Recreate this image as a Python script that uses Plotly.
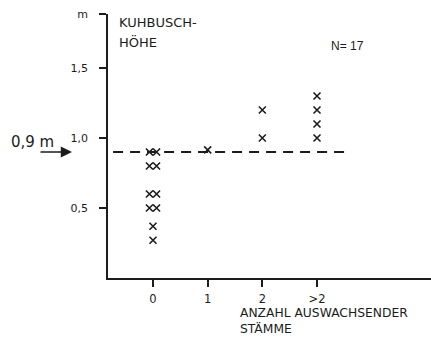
import plotly.graph_objects as go

# ---- data ----
categories = ["0", "1", "2", ">2"]
cat_pos = [0, 1, 2, 3]
heights = {
    0: [0.9, 0.9, 0.8, 0.8, 0.6, 0.6, 0.5, 0.5, 0.37, 0.27],
    1: [0.915],
    2: [1.2, 1.0],
    3: [1.3, 1.2, 1.1, 1.0],
}
threshold = 0.9
threshold_x = [-0.73, 3.62]
y_ticks = [0.5, 1.0, 1.5, 1.886]
y_tick_labels = ["0,5", "1,0", "1,5", "m"]
n_total = 17

INK = "#1c1c1c"
FONT = "DejaVu Sans"

# side-by-side placement for duplicated heights within a category
xs, ys = [], []
for c, vals in heights.items():
    seen = {}
    for v in vals:
        cnt = vals.count(v)
        k = seen.get(v, 0)
        seen[v] = k + 1
        off = 0.0 if cnt == 1 else (k - (cnt - 1) / 2) * 0.13
        xs.append(c + off)
        ys.append(v)

fig = go.Figure()
fig.add_trace(go.Scatter(
    x=threshold_x, y=[threshold, threshold], mode="lines",
    line=dict(color=INK, width=2, dash="10px,7px"), hoverinfo="skip"))
fig.add_trace(go.Scatter(
    x=xs, y=ys, mode="markers",
    marker=dict(symbol="x-thin", size=7, line=dict(color=INK, width=1.6))))

fig.update_layout(
    width=431, height=338,
    margin=dict(l=108, r=0, t=14, b=60),
    paper_bgcolor="white", plot_bgcolor="white",
    showlegend=False,
    font=dict(family=FONT, color=INK, size=11),
    xaxis=dict(range=[-0.823, 5.085], tickvals=cat_pos, ticktext=categories,
               showgrid=False, zeroline=False, showline=True, linecolor=INK,
               linewidth=1.8, ticks="outside", ticklen=7, tickwidth=1.5,
               tickcolor=INK, ticklabelstandoff=2,
               tickfont=dict(family=FONT, size=11.5, color=INK)),
    yaxis=dict(range=[0, 1.886], tickvals=y_ticks, ticktext=y_tick_labels,
               showgrid=False, zeroline=False, showline=True, linecolor=INK,
               linewidth=1.8, ticks="outside", ticklen=7, tickwidth=1.5,
               tickcolor=INK, ticklabelstandoff=9,
               tickfont=dict(family=FONT, size=11, color=INK)),
)

def px(x):
    return (x - 108) / 323

def py(y):
    return (278 - y) / 264

ann = [
    dict(text="KUHBUSCH-", x=px(117), y=py(23), size=13, xanchor="left", fam=FONT),
    dict(text="HÖHE", x=px(117), y=py(42), size=13, xanchor="left", fam=FONT),
    dict(text=f"N= {n_total}", x=px(347), y=py(46), size=12, xanchor="center", fam="Liberation Sans"),
    dict(text="0,9 m", x=px(9), y=py(142), size=15, xanchor="left", fam=FONT),
]
for a in ann:
    fig.add_annotation(text=a["text"], x=a["x"], y=a["y"], xref="paper", yref="paper",
                       xanchor=a["xanchor"], yanchor="middle", showarrow=False,
                       font=dict(family=a["fam"], size=a["size"], color=INK))

# two-line x-axis caption
fig.add_annotation(text="ANZAHL AUSWACHSENDER<br>STÄMME", x=px(239), y=0, yshift=-338 + 278 + 1,
                   xref="paper", yref="paper", xanchor="left", yanchor="bottom",
                   align="left", showarrow=False, borderpad=0,
                   font=dict(family=FONT, size=12.3, color=INK))

# arrow pointing at the threshold
fig.add_annotation(text="", x=px(72), y=py(152), xref="paper", yref="paper",
                   ax=-33, ay=0, showarrow=True, arrowhead=2, arrowsize=1.4,
                   arrowwidth=1.6, arrowcolor=INK)

fig.write_html("out.html", config={"displayModeBar": False},
               post_script="document.body.style.margin='0';document.body.style.overflow='hidden';")
